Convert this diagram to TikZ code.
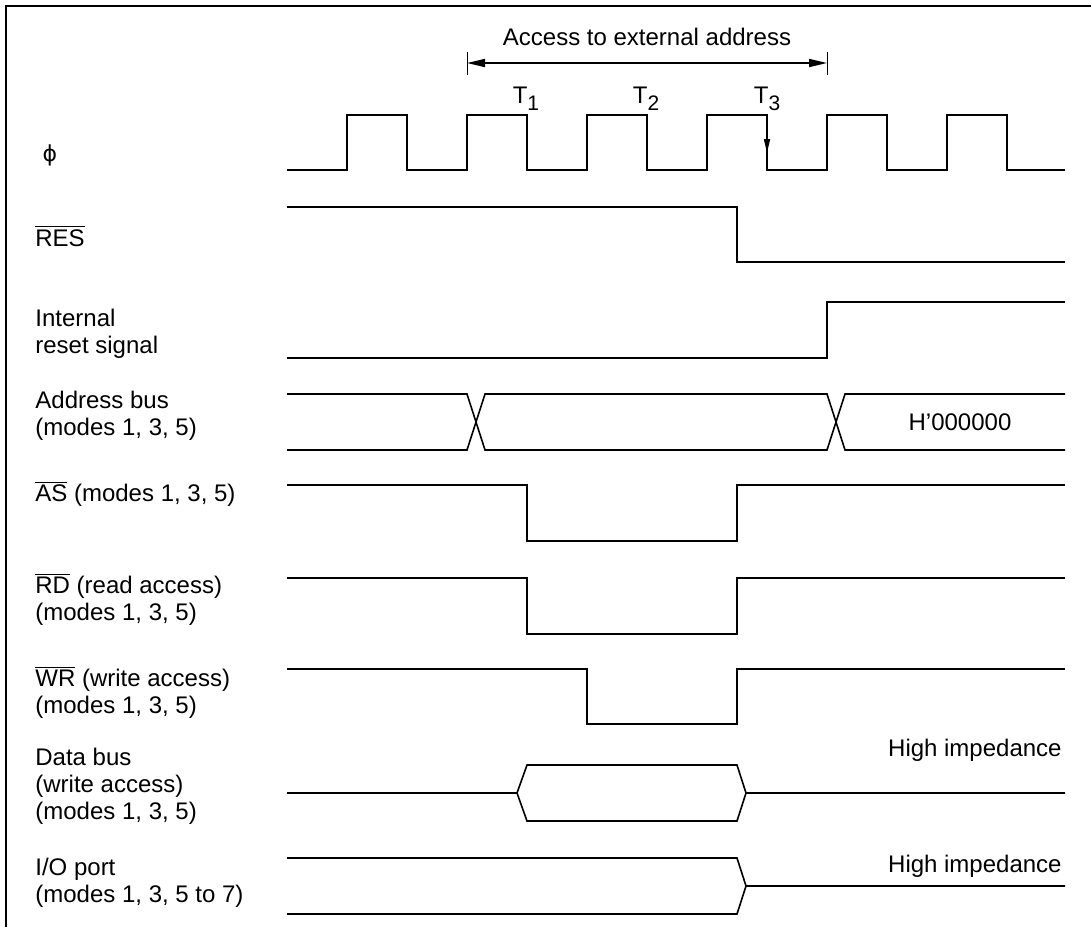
\documentclass[tikz,border=0pt]{standalone}
\usepackage{fontspec}
\setmainfont{Liberation Sans}
\newfontfamily\symfont{DejaVu Sans}
\usetikzlibrary{arrows.meta}

\newcommand{\ovl}[1]{$\overline{\mbox{#1}}$}
\newcommand{\tsub}[1]{T\raisebox{-3.5pt}{\fontsize{10.5}{10.5}\selectfont #1}}

\begin{document}
\begin{tikzpicture}[x=0.5pt,y=-0.5pt,
  sig/.style={line width=0.8pt,line join=miter},
  lbl/.style={anchor=west,align=left,inner sep=0pt,font=\fontsize{12}{13.5}\selectfont},
  txt/.style={inner sep=0pt,font=\fontsize{12}{13.5}\selectfont},
  tri/.tip={Triangle[length=9pt,width=4pt]}]

\useasboundingbox (0,0) rectangle (1091,927);

% Frame
\draw[line width=1.2pt] (6,927) -- (6,6) -- (1091,6);

% Access window
\draw[line width=0.5pt] (467,52) -- (467,75);
\draw[line width=0.5pt] (827,52) -- (827,75);
\draw[sig,tri-tri] (467,63) -- (827,63);
\node[txt] (access) at (647,37) {Access to external address};

\node[txt] (t1) at (526,99) {\tsub{1}};
\node[txt] (t2) at (646,99) {\tsub{2}};
\node[txt] (t3) at (767,99) {\tsub{3}};

% Clock
\node[txt] (phi) at (50,155) {\symfont\fontsize{11}{12}\selectfont ϕ};
\draw[sig] (287,170) \foreach \i in {0,...,5} {
  -- ({347+120*\i},170) -- ({347+120*\i},115) -- ({407+120*\i},115) -- ({407+120*\i},170)}
  -- (1065,170);
\draw[sig,-{Triangle[length=7pt,width=3pt]}] (767,115) -- (767,153);

% RES
\node[lbl] (res) at (35,236) {\ovl{RES}};
\draw[sig] (287,207) -- (737,207) -- (737,262) -- (1065,262);

% Internal reset
\node[lbl] (intres) at (35,334) {Internal\\reset signal};
\draw[sig] (287,358) -- (827,358) -- (827,302) -- (1065,302);

% Address bus
\node[lbl] (addr) at (35,416) {Address bus\\(modes 1, 3, 5)};
\draw[sig] (287,394) -- (467,394) -- (485,450) -- (827,450) -- (845,394) -- (1065,394);
\draw[sig] (287,450) -- (467,450) -- (485,394) -- (827,394) -- (845,450) -- (1065,450);
\node[txt] (vect) at (960,422) {H'000000};

% AS
\node[lbl] (as) at (35,494) {\ovl{AS} (modes 1, 3, 5)};
\draw[sig] (287,485) -- (527,485) -- (527,541) -- (737,541) -- (737,485) -- (1065,485);

% RD
\node[lbl] (rd) at (35,599) {\ovl{RD} (read access)\\(modes 1, 3, 5)};
\draw[sig] (287,578) -- (527,578) -- (527,634) -- (737,634) -- (737,578) -- (1065,578);

% WR
\node[lbl] (wr) at (35,692) {\ovl{WR} (write access)\\(modes 1, 3, 5)};
\draw[sig] (287,669) -- (587,669) -- (587,724) -- (737,724) -- (737,669) -- (1065,669);

% Data bus
\node[lbl] (data) at (35,786) {Data bus\\(write access)\\(modes 1, 3, 5)};
\draw[sig] (287,793) -- (517,793) -- (527,765) -- (737,765) -- (746,793) -- (1065,793);
\draw[sig] (517,793) -- (527,821) -- (737,821) -- (746,793);
\node[txt,anchor=east] (hiz1) at (1062,750) {High impedance};

% I/O port
\node[lbl] (port) at (35,883) {I/O port\\(modes 1, 3, 5 to 7)};
\draw[sig] (287,858) -- (737,858) -- (746,886) -- (1065,886);
\draw[sig] (287,914) -- (737,914) -- (746,886);
\node[txt,anchor=east] (hiz2) at (1062,866) {High impedance};

\end{tikzpicture}
\end{document}
